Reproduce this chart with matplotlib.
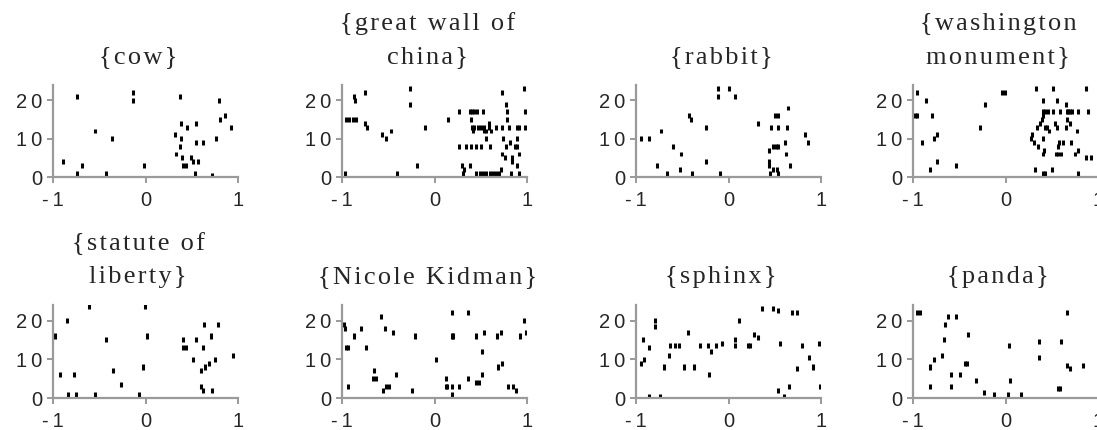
import matplotlib
matplotlib.use("Agg")
import matplotlib.pyplot as plt

# ---------------- data (spike time in s, trial number) ----------------
titles = ["{cow}", "{great wall of\nchina}", "{rabbit}", "{washington\nmonument}",
          "{statute of\nliberty}", "{Nicole Kidman}", "{sphinx}", "{panda}"]

cow_x = [-0.89, -0.74, -0.74, -0.69, -0.55, -0.43, -0.36, -0.13, -0.13, -0.02,
         0.37, 0.32, 0.33, 0.38, 0.38, 0.37, 0.39, 0.41, 0.44, 0.45, 0.49, 0.51,
         0.55, 0.55, 0.62, 0.54, 0.57, 0.72, 0.76, 0.79, 0.80, 0.86, 0.92]
cow_trial = [4, 21, 1, 3, 12, 1, 10, 22, 20, 3,
             21, 11, 6, 14, 10, 8, 5, 3, 3, 13, 5, 4,
             14, 9, 9, 1, 4, 0.5, 10, 20, 15, 16, 13]

wall_x = [-0.97, -0.87, -0.86, -0.75, -0.96, -0.92, -0.88, -0.85, -0.75, -0.73,
          -0.57, -0.52, -0.47, -0.41, -0.26, -0.26, -0.19, -0.10, 0.15,
          0.73, 0.97, 0.77,
          0.27, 0.38, 0.41, 0.43, 0.46, 0.52, 0.78, 0.98,
          0.39, 0.59, 0.78, 0.91,
          0.40, 0.43, 0.47, 0.50, 0.53, 0.59, 0.66, 0.73, 0.81, 0.89, 0.98,
          0.42, 0.54, 0.56, 0.61,
          0.56, 0.74, 0.82, 0.89,
          0.27, 0.34, 0.39, 0.45, 0.50, 0.60, 0.77, 0.87, 0.89,
          0.73, 0.76, 0.84, 0.91, 0.84,
          0.30, 0.32, 0.38, 0.72, 0.89,
          0.31, 0.45, 0.49, 0.52, 0.56, 0.60, 0.63, 0.67, 0.70, 0.83, 0.91]
wall_trial = [1, 21, 20, 22, 15, 15, 15, 15, 14, 13,
              11, 10, 12, 1, 23, 19, 3, 13, 15,
              22, 23, 19,
              17, 17, 17, 17, 17, 17, 17, 17,
              15, 14, 15, 13,
              13, 13, 13, 13, 13, 13, 13, 13, 13, 13, 13,
              12, 12, 12, 12,
              10, 10, 9, 10,
              8, 8, 8, 8, 8, 8, 8, 8, 8,
              6, 5, 5, 6, 4,
              3, 2, 3, 2, 3,
              1, 1, 1, 1, 1, 1, 1, 1, 1, 1, 1]

rabbit_x = [-0.95, -0.86, -0.73, -0.77, -0.67, -0.60, -0.51, -0.52, -0.43, -0.41,
            -0.39, -0.24, -0.24, -0.11, -0.11, 0.00, 0.07, -0.09, 0.32, 0.46,
            0.50, 0.53, 0.54, 0.63, 0.64, 0.44, 0.44, 0.44, 0.48, 0.51,
            0.54, 0.61, 0.62, 0.45, 0.48, 0.52, 0.54, 0.67, 0.83, 0.86]
rabbit_trial = [10, 10, 12, 3, 1, 8, 6, 2, 16, 15,
                1, 13, 4, 23, 21, 23, 21, 1, 14, 13,
                16, 16, 13, 13, 18, 7, 4, 3, 8, 8,
                8, 9, 6, 1, 2, 2, 1, 3, 11, 9]

wash_x = [-0.96, -0.98, -0.96, -0.86, -0.79, -0.90, -0.77, -0.74, -0.82, -0.74,
          -0.53, -0.28, -0.22, -0.04, -0.01,
          0.33, 0.51, 0.87, 0.40, 0.56, 0.65,
          0.40, 0.43, 0.46, 0.51, 0.59, 0.66, 0.68, 0.70, 0.72, 0.78, 0.89,
          0.39, 0.41, 0.66, 0.34, 0.37,
          0.43, 0.45, 0.47, 0.54, 0.56, 0.65, 0.70, 0.77,
          0.28, 0.29, 0.31, 0.40, 0.58, 0.62, 0.71,
          0.35, 0.40, 0.42, 0.55, 0.57, 0.60, 0.57, 0.75, 0.78, 0.87, 0.92,
          0.32, 0.40, 0.43, 0.50, 0.78]
wash_trial = [22, 16, 16, 20, 16, 9, 10, 11, 2, 4,
              3, 13, 19, 22, 22,
              23, 23, 23, 20, 20, 19,
              17, 17, 17, 17, 17, 17, 17, 17, 17, 17, 17,
              15, 16, 15, 13, 14,
              13, 13, 12, 14, 13, 13, 14, 12,
              10, 11, 9, 10, 9, 9, 9,
              8, 6, 7, 6, 6, 6, 8, 6, 7, 5, 5,
              2, 1, 1, 2, 1]

liberty_x = [-0.98, -0.85, -0.92, -0.77, -0.84, -0.75, -0.61, -0.55, -0.43, -0.35,
             -0.27, -0.07, -0.03, -0.01, 0.02, 0.41, 0.41, 0.44, 0.51, 0.55,
             0.62, 0.63, 0.71, 0.78, 0.75, 0.69, 0.64, 0.60, 0.60, 0.62,
             0.72, 0.95]
liberty_trial = [16, 20, 6, 6, 1, 1, 23.5, 1, 15, 7,
                 3.5, 1, 8, 23.5, 16, 15, 13, 13, 10, 15,
                 13, 19, 16, 19, 10, 9, 8, 7, 3, 2,
                 2, 11]

kidman_x = [-0.98, -0.97, -0.96, -0.94, -0.93, -0.87, -0.80, -0.74, -0.65, -0.66,
            -0.63, -0.58, -0.56, -0.54, -0.52, -0.49, -0.45, -0.42, -0.24, -0.21,
            0.02, 0.12, 0.12, 0.14, 0.19, 0.19, 0.20, 0.19, 0.19, 0.27,
            0.36, 0.36, 0.45, 0.48, 0.45, 0.53, 0.51, 0.51, 0.69, 0.73,
            0.68, 0.72, 0.79, 0.85, 0.88, 0.92, 0.97, 0.99]
kidman_trial = [19, 18, 13, 13, 3, 16, 18, 13, 7, 5,
                5, 21, 2, 18, 3, 3, 17, 6, 2, 16,
                10, 5, 3, 3, 22, 16, 16, 3, 1, 3,
                22, 5, 4, 4, 16, 17, 12, 6, 8, 9,
                16, 17, 3, 3, 2, 16, 20, 17]

sphinx_x = [-0.95, -0.91, -0.92, -0.86, -0.86, -0.80, -0.79, -0.74, -0.70, -0.64,
            -0.63, -0.58, -0.54, -0.48, -0.44, -0.37, -0.31, -0.22, -0.19, -0.21,
            -0.14, -0.07, 0.07, 0.07, 0.11, 0.21, 0.23, 0.28, 0.32, 0.36,
            0.48, 0.54, 0.56, 0.54, 0.60, 0.65, 0.69, 0.74, 0.74, 0.79,
            0.87, 0.91, 0.98, 0.99]
sphinx_trial = [9, 10, 15, 13, 0.5, 20, 18.5, 0.5, 8, 11,
                13.5, 13.5, 13.5, 8, 17, 8, 13.5, 13.5, 12, 6,
                13.5, 14, 15, 13.5, 20, 13.5, 13.5, 16.5, 15.5, 23,
                23, 22.5, 14, 2, 0.5, 3, 22, 22, 7.5, 13.5,
                10.5, 8, 14, 3]

panda_x = [-0.96, -0.92, -0.82, -0.82, -0.77, -0.69, -0.66, -0.65, -0.62, -0.53,
           -0.59, -0.59, -0.49, -0.44, -0.42, -0.41, -0.32, -0.23, -0.12, 0.03,
           0.04, 0.05, 0.17, 0.36, 0.36, 0.57, 0.59, 0.60, 0.67, 0.66,
           0.70, 0.84]
panda_trial = [22, 22, 8, 3, 10, 11, 15, 19, 21, 21,
               6, 3, 6, 9, 9, 16.5, 4.5, 1.5, 1, 1,
               13.5, 4.5, 1, 14.5, 10.5, 2.5, 2.5, 14.5, 22, 8.5,
               7.5, 8.5]

xs = [cow_x, wall_x, rabbit_x, wash_x, liberty_x, kidman_x, sphinx_x, panda_x]
trials = [cow_trial, wall_trial, rabbit_trial, wash_trial,
          liberty_trial, kidman_trial, sphinx_trial, panda_trial]

xticks = [-1, 0, 1]
xticklabels = ["-1", "0", "1"]
yticks = [0, 10, 20]
yticklabels = ["0", "10", "20"]

# ---------------- drawing ----------------
W, H = 1097, 430
fig = plt.figure(figsize=(W / 100, H / 100), dpi=100)

SERIF = ["Liberation Serif", "DejaVu Serif"]
SANS = ["Liberation Sans", "DejaVu Sans"]
HAIR = "\u200a"
THIN = "\u2009"


def track(s, sp):
    return sp.join(list(s))


lefts = [53, 342, 636, 913]
rows = [(177, 92), (398, 93)]   # (pixel y of x-axis, axis height px)
AW = 185
GRAY = "#9a9a9a"

for i in range(8):
    r, c = divmod(i, 4)
    ybase, ah = rows[r]
    ax = fig.add_axes([lefts[c] / W, (H - ybase) / H, AW / W, ah / H])
    t = [float(v) for v in trials[i]]
    ax.vlines(xs[i], [v - 0.65 for v in t], [v + 0.65 for v in t],
              colors="black", linewidth=2.2)
    ax.set_xlim(-1, 1)
    ax.set_ylim(0, 24)
    for s in ("top", "right"):
        ax.spines[s].set_visible(False)
    for s in ("left", "bottom"):
        ax.spines[s].set_color(GRAY)
        ax.spines[s].set_linewidth(1.6)
    ax.set_xticks(xticks)
    ax.set_yticks(yticks)
    ax.set_xticklabels([track(l, THIN) for l in xticklabels], family=SANS,
                       fontsize=14.5, color="#262626")
    ax.set_yticklabels([track(l, THIN) for l in yticklabels], family=SANS,
                       fontsize=14.5, color="#262626")
    ax.tick_params(axis="both", direction="out", length=4.3, width=1.4, color=GRAY)
    ax.tick_params(axis="x", pad=5.5)
    ax.tick_params(axis="y", pad=3.5)
    ax.patch.set_alpha(0)

    lines = titles[i].split("\n")
    n = len(lines)
    for k, line in enumerate(lines):
        off = 22 + (n - 1 - k) * 33
        ax.annotate(track(line, HAIR), xy=(0.46, 1.0), xycoords="axes fraction",
                    xytext=(0, off), textcoords="offset pixels",
                    ha="center", va="baseline", family=SERIF, fontsize=19,
                    color="#262626")

fig.savefig("out.png", dpi=100)
